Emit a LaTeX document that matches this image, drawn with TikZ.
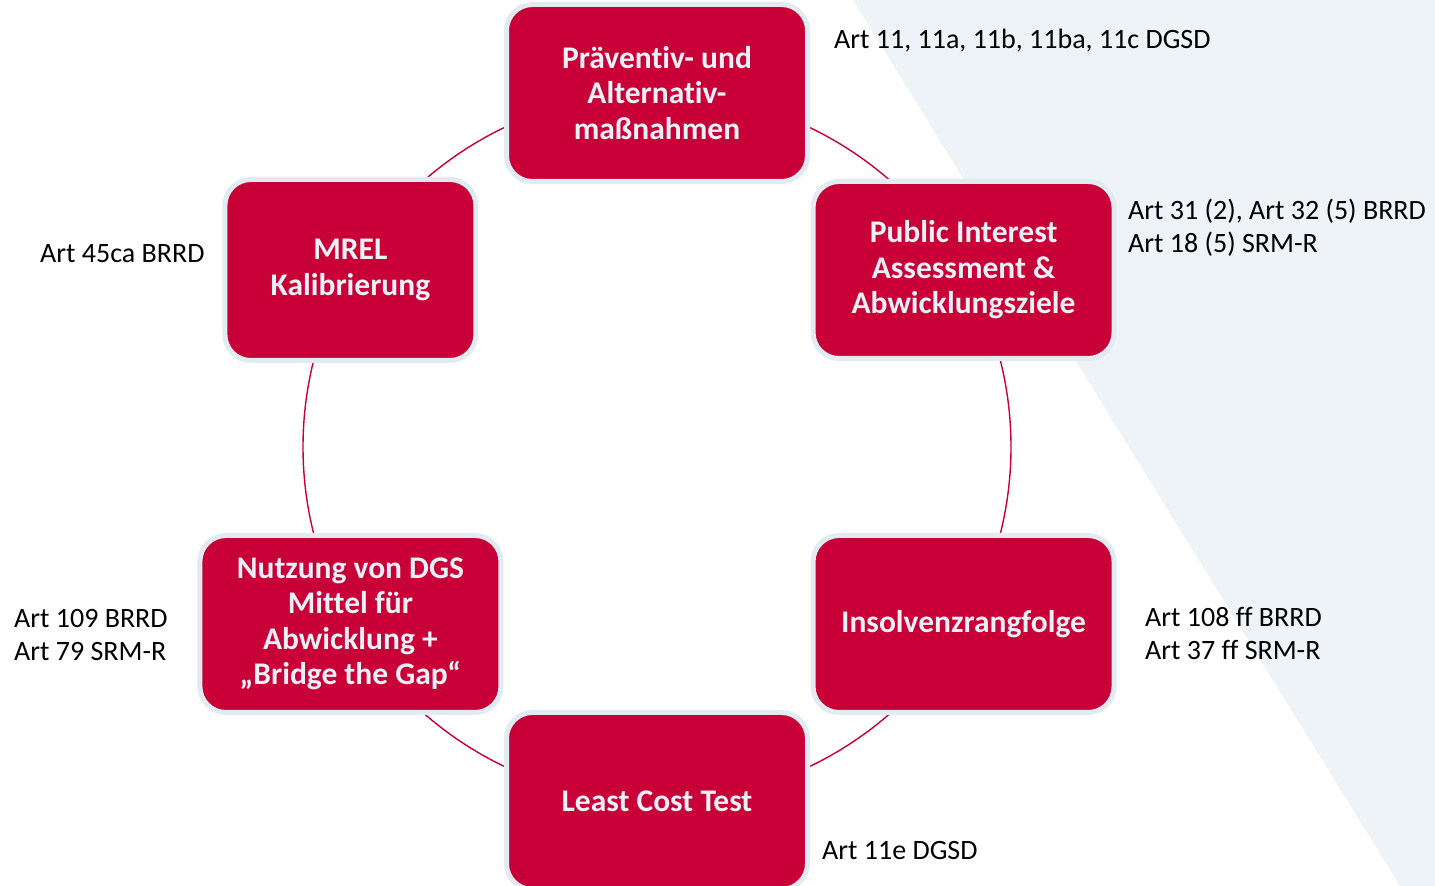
\documentclass[tikz,border=0pt]{standalone}
\usepackage{fontspec}
\setmainfont[Ligatures={NoCommon,NoRequired,NoContextual},
  Contextuals=NoAlternate, RawFeature={-dlig}]{Carlito}
\usepackage{tikz}
\usetikzlibrary{positioning,calc}
\definecolor{stagered}{RGB}{200,0,55}
\definecolor{stagerim}{RGB}{225,235,241}
\definecolor{stagetext}{RGB}{236,241,245}
\definecolor{bgshade}{RGB}{237,243,247}
\pgfmathsetmacro{\cyclerad}{354}
\tikzset{
  stage_box/.style={rectangle, rounded corners=26pt, fill=stagered,
    draw=stagerim, line width=5pt, minimum width=301pt,
    minimum height=177pt, inner sep=0pt, align=center, text=stagetext,
    font=\fontsize{31.5}{35.5}\selectfont\bfseries},
  art_label/.style={inner sep=0pt, align=left,
    font=\fontsize{28}{33}\selectfont},
}

\begin{document}
\begin{tikzpicture}[x=1pt, y=1pt]
    \useasboundingbox (0,0) rectangle (1435,886);
    % background wedge
    \fill[bgshade] (853,886) -- (1435,886) -- (1435,0) -- (1400,0) -- cycle;
    % the cycle
    \coordinate (cycle_mid) at (657,439);
    \draw[stagered, line width=1.4pt] (cycle_mid) circle[radius=\cyclerad];
    % define stages
    \node[stage_box] (stage_praev) at ($(cycle_mid) + (90:\cyclerad)$)
        {Präventiv- und\\Alternativ-\\maßnahmen};
    \node[stage_box] (stage_pia) at ($(cycle_mid) + (30:\cyclerad)$)
        {Public Interest\\Assessment \&\\Abwicklungsziele};
    \node[stage_box] (stage_insolv) at ($(cycle_mid) + (-30:\cyclerad)$)
        {Insolvenzrangfolge};
    \node[stage_box] (stage_lct) at ($(cycle_mid) + (-90:\cyclerad)$)
        {Least Cost Test};
    \node[stage_box] (stage_dgs) at ($(cycle_mid) + (-150:\cyclerad)$)
        {Nutzung von DGS\\Mittel für\\Abwicklung +\\„Bridge the Gap“};
    \node[stage_box, minimum width=251pt, minimum height=181pt] (stage_mrel)
        at ($(cycle_mid) + (150:\cyclerad)$) {MREL\\Kalibrierung};
    % add legal references
    \node[art_label, anchor=base west] (ref_praev) at (834,837)
        {Art 11, 11a, 11b, 11ba, 11c DGSD};
    \node[art_label, anchor=west] (ref_pia) at (1128,658)
        {Art 31 (2), Art 32 (5) BRRD\\Art 18 (5) SRM-R};
    \node[art_label, anchor=west] (ref_insolv) at (1145,252.5)
        {Art 108 ff BRRD\\Art 37 ff SRM-R};
    \node[art_label, anchor=base west] (ref_lct) at (822,26)
        {Art 11e DGSD};
    \node[art_label, anchor=west] (ref_dgs) at (14,251)
        {Art 109 BRRD\\Art 79 SRM-R};
    \node[art_label, anchor=base west] (ref_mrel) at (40,623)
        {Art 45ca BRRD};
\end{tikzpicture}
\end{document}
